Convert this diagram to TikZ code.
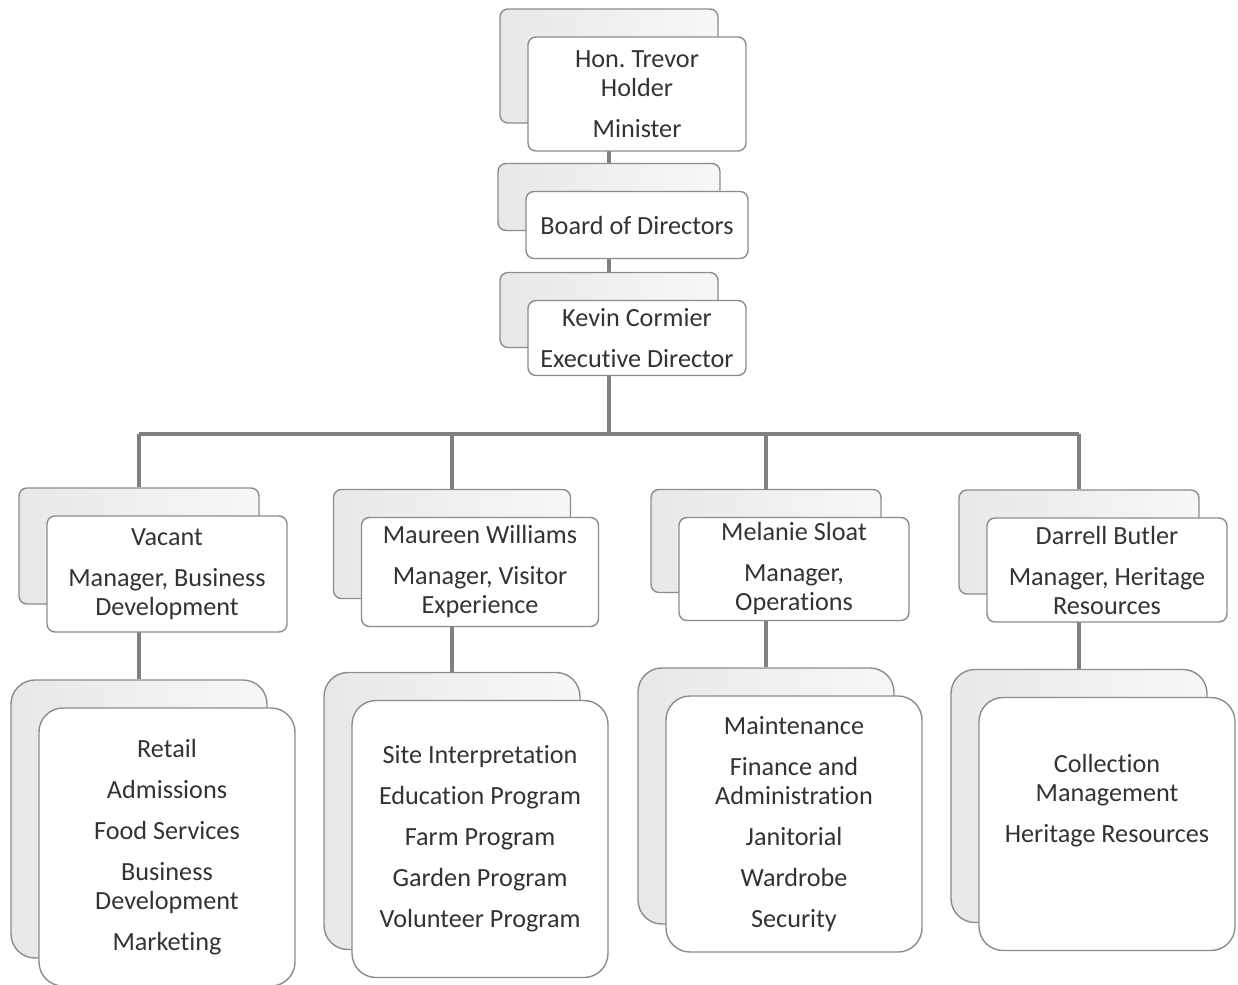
\documentclass[tikz,border=0pt]{standalone}
\usepackage{fontspec}
\setmainfont{Carlito}[Ligatures=NoCommon]
\frenchspacing
\usetikzlibrary{backgrounds}

\begin{document}
\begin{tikzpicture}[x=0.5pt,y=-0.5pt,
    font=\fontsize{13.1pt}{14.5pt}\selectfont,
    sz/.style 2 args={minimum width=#1*0.5pt, minimum height=#2*0.5pt},
    card/.style={draw=black!45, line width=0.7pt, rounded corners=4pt, fill=white,
      text=black!80, align=center, inner sep=0pt},
    back/.style={card, left color=black!9, right color=black!3},
    big/.style={rounded corners=12pt},
    link/.style={draw=black!50, line width=1.6pt}]
  \useasboundingbox (0,0) rectangle (1238,985);

  % top of the chart
  \node[back, sz={218}{114}] (minS) at (609,66) {};
  \node[card, sz={218}{114}] (min) at ([shift={(28,28)}]minS) {Hon. Trevor\\Holder\\[6pt]Minister};
  \node[back, sz={222}{67}] (brdS) at (609,197) {};
  \node[card, sz={222}{67}] (brd) at ([shift={(28,28)}]brdS) {Board of Directors};
  \node[back, sz={218}{75}] (kevS) at (609,310) {};
  \node[card, sz={218}{75}] (kev) at ([shift={(28,28)}]kevS) {Kevin Cormier\\[6pt]Executive Director};
  \coordinate (bar) at (609,434);

  % managers
  \node[back, sz={240}{116}] (vacS) at (139,546) {};
  \node[card, sz={240}{116}] (vac) at ([shift={(28,28)}]vacS) {Vacant\\[6pt]Manager, Business\\Development};
  \node[back, sz={237}{109}] (mauS) at (452,544) {};
  \node[card, sz={237}{109}] (mau) at ([shift={(28,28)}]mauS) {Maureen Williams\\[6pt]Manager, Visitor\\Experience};
  \node[back, sz={230}{103}] (melS) at (766,541) {};
  \node[card, sz={230}{103}] (mel) at ([shift={(28,28)}]melS) {Melanie Sloat\\[6pt]Manager,\\Operations};
  \node[back, sz={240}{104}] (darS) at (1079,542) {};
  \node[card, sz={240}{104}] (dar) at ([shift={(28,28)}]darS) {Darrell Butler\\[6pt]Manager, Heritage\\Resources};

  % units
  \node[back, big, sz={256}{278}] (retS) at (139,819) {};
  \node[card, big, sz={256}{278}] (ret) at ([shift={(28,28)}]retS)
    {Retail\\[6pt]Admissions\\[6pt]Food Services\\[6pt]Business\\Development\\[6pt]Marketing};
  \node[back, big, sz={256}{277}] (vexS) at (452,811) {};
  \node[card, big, sz={256}{277}] (vex) at ([shift={(28,28)}]vexS)
    {Site Interpretation\\[6pt]Education Program\\[6pt]Farm Program\\[6pt]Garden Program\\[6pt]Volunteer Program};
  \node[back, big, sz={256}{256}] (opsS) at (766,796) {};
  \node[card, big, sz={256}{256}] (ops) at ([shift={(28,28)}]opsS)
    {Maintenance\\[6pt]Finance and\\Administration\\[6pt]Janitorial\\[6pt]Wardrobe\\[6pt]Security};
  \node[back, big, sz={256}{253}] (herS) at (1079,796) {};
  \node[card, big, sz={256}{253}] (her) at ([shift={(28,28)}]herS)
    {Collection\\Management\\[6pt]Heritage Resources\\[11.5pt]\mbox{}};

  \begin{pgfonlayer}{background}
    \draw[link] (minS) -- (brdS) -- (kevS) -- (bar);
    \draw[link] (vacS |- bar) -- (darS |- bar);
    \draw[link] (vacS |- bar) -- (vacS) -- (retS);
    \draw[link] (mauS |- bar) -- (mauS) -- (vexS);
    \draw[link] (melS |- bar) -- (melS) -- (opsS);
    \draw[link] (darS |- bar) -- (darS) -- (herS);
  \end{pgfonlayer}
\end{tikzpicture}
\end{document}
